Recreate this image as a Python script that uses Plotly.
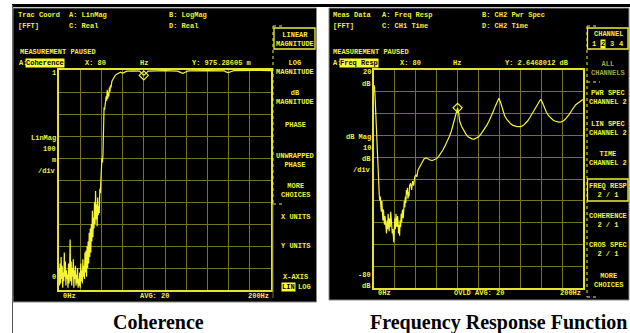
import plotly.graph_objects as go

W, H = 630, 333

# ---------------- data ----------------
coh_freq = [0, 0.5, 1, 1.5, 2, 2.5, 3, 3.5, 4, 4.5, 5, 5.5, 6, 6.5, 7, 7.5, 8, 8.5, 9, 9.5,
            10, 10.5, 11, 11.5, 12, 12.5, 13, 13.5, 14, 14.5, 15, 15.5, 16, 16.5, 17, 17.5, 18, 18.5, 19, 19.5,
            20, 20.5, 21, 21.5, 22, 22.5, 23, 23.5, 24, 24.5, 25, 25.5, 26, 26.5, 27, 27.5, 28, 28.5, 29, 29.5,
            30, 30.5, 31, 31.5, 32, 32.5, 33, 33.5, 34, 34.5, 35, 35.5, 36, 36.5, 37, 37.5, 38, 38.5, 39, 39.5,
            40, 40.5, 41, 41.5, 42, 42.5, 43, 43.5, 44, 44.5, 45, 45.5, 46, 46.5, 47, 47.5, 48, 48.5, 49,
            50, 51, 52, 53, 54, 56, 58, 60, 62, 64, 70, 76, 78, 80, 82, 84, 100, 112, 115, 117, 119, 122,
            140, 156, 158, 160, 162, 165, 190, 200]
coh_vals = [0.10, 0.02, 0.12, 0.03, 0.15, 0.05, 0.11, 0.01, 0.08, 0.04, 0.17, 0.06, 0.13, 0.02, 0.09, 0.05, 0.07, 0.01, 0.12, 0.03,
            0.08, 0.23, 0.04, 0.13, 0.02, 0.10, 0.06, 0.14, 0.01, 0.09, 0.05, 0.11, 0.02, 0.07, 0.03, 0.10, 0.01, 0.05, 0.02, 0.08,
            0.01, 0.12, 0.04, 0.09, 0.03, 0.14, 0.06, 0.11, 0.05, 0.17, 0.08, 0.18, 0.06, 0.20, 0.10, 0.22, 0.12, 0.26, 0.15, 0.28,
            0.17, 0.30, 0.22, 0.36, 0.24, 0.33, 0.28, 0.40, 0.30, 0.45, 0.32, 0.39, 0.29, 0.42, 0.34, 0.38, 0.35, 0.46, 0.44, 0.50,
            0.55, 0.60, 0.58, 0.62, 0.78, 0.83, 0.82, 0.85, 0.84, 0.88, 0.86, 0.91, 0.87, 0.90, 0.88, 0.92, 0.90, 0.93, 0.92,
            0.95, 0.96, 0.97, 0.975, 0.98, 0.985, 0.99, 0.985, 0.99, 0.995, 0.996, 0.995, 0.985, 0.975, 0.985, 0.995, 0.997, 0.995, 0.988, 0.985, 0.99, 0.996,
            0.997, 0.996, 0.99, 0.988, 0.992, 0.997, 0.998, 0.997]

frf_freq = [0, 0.5, 1, 1.5, 2, 2.5, 3, 3.5, 4, 4.5, 5, 5.5, 6, 6.5, 7, 7.5, 8, 8.5, 9, 9.5,
            10, 10.5, 11, 11.5, 12, 12.5, 13, 13.5, 14, 14.5, 15, 15.5, 16, 16.5, 17, 17.5, 18, 18.5, 19, 19.5,
            20, 20.5, 21, 21.5, 22, 22.5, 23, 23.5, 24, 24.5, 25, 25.5, 26, 26.5, 27, 27.5, 28, 28.5, 29, 29.5,
            30, 30.5, 31, 31.5, 32, 32.5, 33, 33.5, 34, 35, 36, 37, 38, 39, 40, 41, 42, 44, 46, 48, 50,
            52, 54, 56, 58, 60, 62, 64, 66, 68, 70, 72, 74, 76, 78, 79, 80, 81, 82, 84, 86, 88, 90, 92, 94, 96, 98,
            100, 102, 104, 106, 108, 110, 112, 114, 116, 118, 119.5, 121, 123, 125, 127, 129, 131, 133, 135, 137, 139,
            141, 143, 145, 147, 149, 151, 153, 155, 157, 159.5, 161, 163, 165, 167, 169, 171, 173, 175, 177, 179,
            181, 183, 185, 187, 189, 191, 193, 195, 197, 200]
frf_vals = [13, 12, 8, 2, -6, -13, -19, -25, -29, -33, -37, -40, -38, -42, -45, -40, -46, -49, -44, -48,
            -51, -47, -52, -50, -55, -49, -53, -46, -50, -54, -48, -52, -45, -51, -49, -55, -53, -58, -59, -52,
            -48, -53, -46, -50, -52, -47, -49, -55, -51, -56, -49, -52, -46, -50, -45, -44, -48, -42, -40, -43,
            -38, -41, -35, -37, -34, -39, -36, -38, -33, -32, -35, -31, -33, -29, -28, -29, -26, -24, -22, -20.7, -20.3,
            -20.8, -21.4, -21.5, -21.2, -20.6, -19.6, -18.3, -16.6, -14.7, -12.8, -10.6, -8.1, -4.5, -0.8, 1.0, 2.65, 0.2, -3.5, -6.0, -8.0, -9.4, -10.6, -11.3, -11.7, -11.7, -11.3,
            -10.6, -9.6, -8.3, -6.8, -5.3, -3.5, -1.5, 0.8, 3.3, 5.8, 7.0, 5.3, 2.6, -1.0, -2.6, -3.9, -4.8, -5.4, -5.8, -6.0, -6.0,
            -5.9, -5.4, -4.6, -3.4, -1.9, -0.2, 1.6, 3.4, 5.1, 6.6, 5.3, 2.7, 0.6, -0.9, -2.0, -2.8, -3.4, -3.8, -3.9, -3.8,
            -3.4, -2.6, -1.5, -0.2, 1.3, 2.8, 4.1, 4.8, 5.6, 6.5]

marker_x = [80]
coh_marker_y = [0.97528605]
frf_marker_y = [2.6468012]

left_softkeys = ["LINEAR<br>MAGNITUDE", "LOG<br>MAGNITUDE", "dB<br>MAGNITUDE", "PHASE",
                 "UNWRAPPED<br>PHASE", "MORE<br>CHOICES", "X UNITS", "Y UNITS"]
right_softkeys = ["PWR SPEC<br>CHANNEL 2", "LIN SPEC<br>CHANNEL 2", "TIME<br>CHANNEL 2",
                  "FREQ RESP<br>2 / 1", "COHERENCE<br>2 / 1", "CROS SPEC<br>2 / 1", "MORE<br>CHOICES"]
titles = ["Coherence", "Frequency Response Function"]

# ---------------- style ----------------
YEL = "#eeee3a"
TRACE = "#f4f432"
GRID = "#74741e"
FRAME = "#e4e430"
MONO = "Liberation Mono"


def px(x):
    return x / W


def py(y):
    return 1 - y / H


fig = go.Figure()

fig.add_trace(go.Scatter(x=coh_freq, y=coh_vals, mode="lines", line=dict(color=TRACE, width=1.2),
                         xaxis="x", yaxis="y", showlegend=False))
fig.add_trace(go.Scatter(x=marker_x, y=coh_marker_y, mode="markers",
                         marker=dict(symbol="diamond-open", size=7, color=TRACE, line=dict(width=1.2)),
                         xaxis="x", yaxis="y", showlegend=False))
fig.add_trace(go.Scatter(x=frf_freq, y=frf_vals, mode="lines", line=dict(color=TRACE, width=1.2),
                         xaxis="x2", yaxis="y2", showlegend=False))
fig.add_trace(go.Scatter(x=marker_x, y=frf_marker_y, mode="markers",
                         marker=dict(symbol="diamond-open", size=7, color=TRACE, line=dict(width=1.2)),
                         xaxis="x2", yaxis="y2", showlegend=False))

ax_common = dict(showline=True, mirror=True, linecolor=FRAME, linewidth=1.5,
                 showgrid=True, gridcolor=GRID, gridwidth=1, zeroline=False,
                 showticklabels=False, ticks="")

fig.update_layout(
    width=W, height=H,
    margin=dict(l=0, r=0, t=0, b=0),
    paper_bgcolor="white",
    plot_bgcolor="black",
    xaxis=dict(domain=[px(59), px(271)], range=[0, 200], dtick=20, anchor="y", **ax_common),
    yaxis=dict(domain=[py(290), py(70)], range=[0, 1], dtick=0.1, anchor="x", **ax_common),
    xaxis2=dict(domain=[px(374), px(583)], range=[0, 200], dtick=20, anchor="y2", **ax_common),
    yaxis2=dict(domain=[py(288), py(70)], range=[-80, 20], dtick=10, anchor="x2", **ax_common),
)

shapes = []
# top bar and left rule
shapes.append(dict(type="rect", xref="paper", yref="paper", x0=px(12), x1=px(630), y0=py(7), y1=py(4),
                   fillcolor="black", line=dict(width=0), layer="below"))
shapes.append(dict(type="line", xref="paper", yref="paper", x0=px(12.5), x1=px(12.5), y0=py(5), y1=py(333),
                   line=dict(color="#555555", width=1), layer="below"))
# instrument panels
shapes.append(dict(type="rect", xref="paper", yref="paper", x0=px(13), x1=px(316.5), y0=py(302), y1=py(8),
                   fillcolor="black", line=dict(color="#8a8a8a", width=1), layer="below"))
shapes.append(dict(type="rect", xref="paper", yref="paper", x0=px(329), x1=px(629), y0=py(300), y1=py(8),
                   fillcolor="black", line=dict(color="#8a8a8a", width=1), layer="below"))

dot = dict(color=YEL, width=1, dash="dot")
# left softkey dotted frame
shapes.append(dict(type="line", xref="paper", yref="paper", x0=px(273), x1=px(273), y0=py(26), y1=py(204), line=dot))
shapes.append(dict(type="line", xref="paper", yref="paper", x0=px(273), x1=px(283), y0=py(26), y1=py(26), line=dot))
shapes.append(dict(type="line", xref="paper", yref="paper", x0=px(273), x1=px(283), y0=py(204), y1=py(204), line=dot))
shapes.append(dict(type="line", xref="paper", yref="paper", x0=px(273), x1=px(273), y0=py(204), y1=py(298),
                   line=dict(color=GRID, width=1)))
# right softkey dotted frame
shapes.append(dict(type="line", xref="paper", yref="paper", x0=px(587), x1=px(587), y0=py(26), y1=py(297), line=dot))
shapes.append(dict(type="line", xref="paper", yref="paper", x0=px(587), x1=px(597), y0=py(26), y1=py(26), line=dot))
shapes.append(dict(type="line", xref="paper", yref="paper", x0=px(587), x1=px(597), y0=py(297), y1=py(297), line=dot))
shapes.append(dict(type="line", xref="paper", yref="paper", x0=px(587), x1=px(600), y0=py(82), y1=py(82), line=dot))
# softkey highlight boxes
shapes.append(dict(type="rect", xref="paper", yref="paper", x0=px(274), x1=px(315), y0=py(49), y1=py(28),
                   line=dict(color=YEL, width=1.3)))
shapes.append(dict(type="rect", xref="paper", yref="paper", x0=px(587.5), x1=px(628), y0=py(49), y1=py(28),
                   line=dict(color=YEL, width=1.3)))
shapes.append(dict(type="rect", xref="paper", yref="paper", x0=px(587.5), x1=px(628), y0=py(201), y1=py(179),
                   line=dict(color=YEL, width=1.3)))
fig.update_layout(shapes=shapes)

ann = []


def txt(x, y, s, anchor="left", color=YEL, bg=None, size=7, family=MONO):
    d = dict(x=px(x), y=py(y), xref="paper", yref="paper", text=s, showarrow=False,
             xanchor=anchor, yanchor="middle", align="center",
             font=dict(family=family, size=size, color=color))
    if bg:
        d["bgcolor"] = bg
        d["borderpad"] = 0
    ann.append(d)


def b(s):
    return "<b>" + s + "</b>"


# ---- left panel header
txt(16, 15, b("Trac Coord"))
txt(16, 26, b("[FFT]"))
txt(67, 15, b("A: LinMag"))
txt(67, 26, b("C: Real"))
txt(167, 15, b("B: LogMag"))
txt(167, 26, b("D: Real"))
txt(18, 52, b("MEASUREMENT PAUSED"))
txt(17, 63, b("A:"))
txt(25, 63, b("Coherence"), color="black", bg="#ffff33")
txt(83, 63, b("X: 80"))
txt(138, 63, b("Hz"))
txt(190, 63, b("Y: 975.28605 m"))
# left axis labels
txt(58, 73, b("1"), anchor="right")
txt(58, 277, b("0"), anchor="right")
txt(58, 138, b("LinMag"), anchor="right")
txt(58, 149, b("100"), anchor="right")
txt(58, 160, b("m"), anchor="right")
txt(58, 171, b("/div"), anchor="right")
txt(61, 296, b("0Hz"))
txt(154, 296, b("AVG: 20"), anchor="center")
txt(271, 296, b("200Hz"), anchor="right")
# left softkeys
lk_y = [39, 67, 97, 125, 160, 190, 217, 246]
for s, yy in zip(left_softkeys, lk_y):
    txt(295, yy, b(s), anchor="center")
txt(295, 277, b("X-AXIS"), anchor="center")
txt(288, 287, b("LIN"), anchor="center", color="black", bg="#ffff33")
txt(304, 287, b("LOG"), anchor="center")

# ---- right panel header
txt(331, 15, b("Meas Data"))
txt(331, 26, b("[FFT]"))
txt(380, 15, b("A: Freq Resp"))
txt(380, 26, b("C: CH1 Time"))
txt(480, 15, b("B: CH2 Pwr Spec"))
txt(480, 26, b("D: CH2 Time"))
txt(331, 52, b("MEASUREMENT PAUSED"))
txt(331, 63, b("A:"))
txt(339, 63, b("Freq Resp"), color="black", bg="#ffff33")
txt(398, 63, b("X: 80"))
txt(451, 63, b("Hz"))
txt(503, 63, b("Y: 2.6468012 dB"))
# right axis labels
txt(373, 72, b("20"), anchor="right")
txt(373, 84, b("dB"), anchor="right")
txt(373, 137, b("dB Mag"), anchor="right")
txt(373, 148, b("10"), anchor="right")
txt(373, 159, b("dB"), anchor="right")
txt(373, 170, b("/div"), anchor="right")
txt(373, 275, b("-80"), anchor="right")
txt(373, 286, b("dB"), anchor="right")
txt(376, 293, b("0Hz"))
txt(479, 293, b("OVLD AVG: 20"), anchor="center")
txt(583, 293, b("200Hz"), anchor="right")
# right softkeys
txt(608, 34, b("CHANNEL"), anchor="center")
txt(594, 44, b("1"), anchor="center")
txt(603, 44, b("2"), anchor="center", color="black", bg="#ffff33")
txt(612, 44, b("3"), anchor="center")
txt(621, 44, b("4"), anchor="center")
txt(608, 68, b("ALL<br>CHANNELS"), anchor="center", color="#a0a048")
rk_y = [97, 128, 158, 190, 220, 249, 280]
for s, yy in zip(right_softkeys, rk_y):
    txt(608, yy, b(s), anchor="center")

# ---- titles
txt(158, 322, b(titles[0]), anchor="center", color="black", size=20, family="Liberation Serif")
txt(498, 322, b(titles[1]), anchor="center", color="black", size=20, family="Liberation Serif")

fig.update_layout(annotations=ann)
fig.write_html("out.html", config={"displayModeBar": False},
               post_script="document.body.style.margin='0';document.body.style.overflow='hidden';")
